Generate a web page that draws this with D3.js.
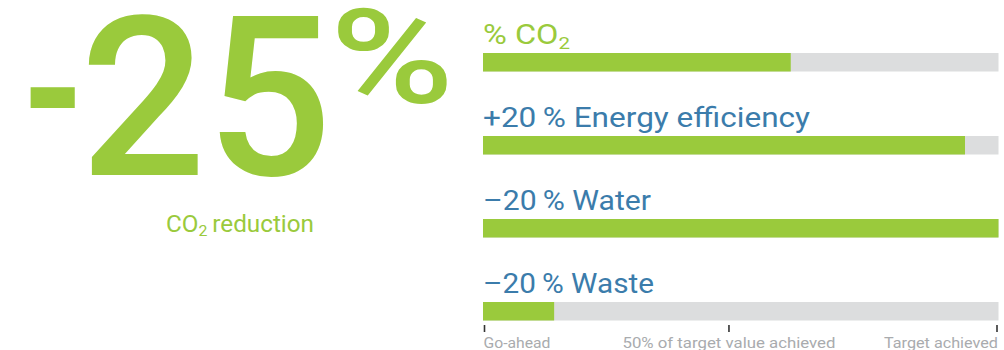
<!DOCTYPE html>
<html>
<head>
<meta charset="utf-8">
<script src="https://cdn.jsdelivr.net/npm/d3@7"></script>
<style>
body { margin: 0; background: #fff; }
svg { display: block; }
</style>
</head>
<body>
<div id="chart"></div>
<script>
// headline figure
var headline = ["-", "25", "%"];
var subtitle = ["CO", "2", "\u2009reduction"];

// progress bars
var labels = ["% CO", "+20\u2009% Energy efficiency", "\u201320\u2009% Water", "\u201320\u2009% Waste"];
var labelSubs = ["2", "", "", ""];
var labelWidths = [87, 327, 168, 171];
var values = [59.7, 93.5, 100, 13.8];

// scale marks under the bars
var tickValues = [0, 47.7, 100];
var tickLabels = ["Go-ahead", "50% of target value achieved", "Target achieved"];
var tickLabelWidths = [67, 213, 114];

var green = "#9aca3c",
    blue = "#3b7cab",
    track = "#dcddde",
    grey = "#a9abae";

var width = 1004, height = 350;
var svg = d3.select("#chart").append("svg")
    .attr("width", width)
    .attr("height", height)
    .style("font-family", "Roboto, 'Open Sans', sans-serif");

// ---- left: big number ----
var big = svg.append("g").attr("fill", green).attr("font-weight", 500);
big.append("text")
    .attr("x", 24).attr("y", 165)
    .attr("font-size", 220)
    .attr("textLength", 58).attr("lengthAdjust", "spacingAndGlyphs")
    .text(headline[0]);
big.append("text")
    .attr("x", 80).attr("y", 175)
    .attr("font-size", 222)
    .attr("textLength", 252).attr("lengthAdjust", "spacingAndGlyphs")
    .text(headline[1]);
big.append("text")
    .attr("x", 330).attr("y", 103)
    .attr("font-size", 132)
    .attr("textLength", 124).attr("lengthAdjust", "spacingAndGlyphs")
    .text(headline[2]);

var sub = svg.append("text")
    .attr("x", 166).attr("y", 232)
    .attr("fill", green)
    .attr("font-size", 23)
    .attr("textLength", 148).attr("lengthAdjust", "spacingAndGlyphs");
sub.append("tspan").text(subtitle[0]);
sub.append("tspan").attr("font-size", 15).attr("dy", 4).text(subtitle[1]);
sub.append("tspan").attr("dy", -4).text(subtitle[2]);

// ---- right: bars ----
var x = d3.scaleLinear().domain([0, 100]).range([483, 998.5]);
var y = d3.scalePoint().domain(d3.range(labels.length)).range([53, 302]);
var barH = 18.5;

var rows = svg.append("g").selectAll("g")
    .data(values)
    .enter().append("g")
    .attr("transform", function(d, i) { return "translate(0," + y(i) + ")"; });

rows.append("rect")
    .attr("x", x(0))
    .attr("width", x(100) - x(0))
    .attr("height", barH)
    .attr("fill", track);

rows.append("rect")
    .attr("x", x(0))
    .attr("width", function(d) { return x(d) - x(0); })
    .attr("height", barH)
    .attr("fill", green);

var lab = rows.append("text")
    .attr("x", x(0))
    .attr("y", -9)
    .attr("font-size", 27)
    .attr("fill", function(d, i) { return i == 0 ? green : blue; })
    .attr("textLength", function(d, i) { return labelWidths[i]; })
    .attr("lengthAdjust", "spacingAndGlyphs");
lab.append("tspan").text(function(d, i) { return labels[i]; });
lab.append("tspan")
    .attr("font-size", 17)
    .attr("dy", 5)
    .text(function(d, i) { return labelSubs[i]; });

// ---- scale axis ----
var xa = x.copy().range([484, 996.5]);
var axis = d3.axisBottom(xa)
    .tickValues(tickValues)
    .tickSize(7)
    .tickPadding(5)
    .tickFormat(function(d, i) { return tickLabels[i]; });

var ax = svg.append("g")
    .attr("transform", "translate(0,325)")
    .call(axis);
ax.select(".domain").remove();
ax.selectAll(".tick line").attr("stroke", "#333").attr("stroke-width", 1.6);
ax.selectAll(".tick text")
    .attr("fill", grey)
    .attr("font-size", 15)
    .attr("font-family", "Roboto, 'Open Sans', sans-serif")
    .attr("textLength", function(d, i) { return tickLabelWidths[i]; })
    .attr("lengthAdjust", "spacingAndGlyphs")
    .attr("text-anchor", function(d, i) { return i == 0 ? "start" : (i == tickValues.length - 1 ? "end" : "middle"); })
    .attr("dx", function(d, i) { return i == 0 ? -1 : (i == tickValues.length - 1 ? 1 : 0); });
</script>
</body>
</html>
